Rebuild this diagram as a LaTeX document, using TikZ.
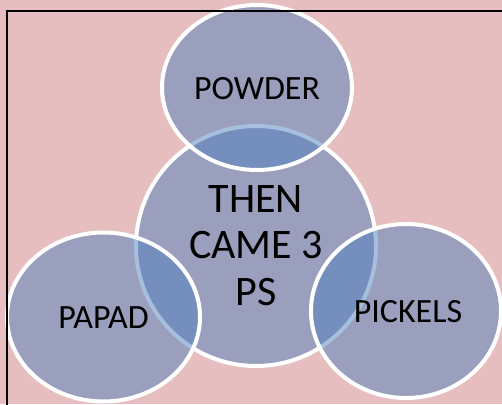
\documentclass[tikz,border=0pt]{standalone}
\usepackage{fontspec}
\setmainfont{Carlito}
\usetikzlibrary{shapes.geometric}
\definecolor{bgpink}{RGB}{231,190,192}
\definecolor{vblue}{RGB}{79,129,189}
\tikzset{
  venn/.style={ellipse, draw=white, line width=4pt, fill=vblue, fill opacity=0.5, draw opacity=1, inner sep=0pt},
  lbl/.style={anchor=base, text=black, font=\fontsize{34}{40}\selectfont, inner sep=0pt},
}
\begin{document}
\begin{tikzpicture}[x=1pt,y=-1pt]
\useasboundingbox (0,0) rectangle (502,404);
\clip (0,0) rectangle (502,404);
\fill[bgpink] (0,0) rectangle (502,404);
% centre circle first
\node[venn, minimum width=240pt, minimum height=240pt] (mid) at (256,246) {};
\node[venn, minimum width=190pt, minimum height=165pt] (top) at (257,87.5) {};
\node[venn, minimum width=193pt, minimum height=169pt] (left) at (103.5,317) {};
\node[venn, minimum width=190pt, minimum height=174pt] (right) at (406,311) {};
% texts
\node[lbl] (tPowder) at (257,99) {POWDER};
\node[lbl] (tPapad) at (103.5,328) {PAPAD};
\node[lbl] (tPickels) at (408,322) {PICKELS};
\node[anchor=base, inner sep=0pt, align=center, font=\fontsize{42}{46.5}\selectfont] (tMid) at (256,305) {THEN\\CAME 3\\PS};
% frame
\coordinate (fBL) at (6.7,410);
\coordinate (fTL) at (6.7,11);
\coordinate (fTR) at (510,11);
\draw[black, line width=2pt] (fBL) -- (fTL) -- (fTR);
\end{tikzpicture}
\end{document}
